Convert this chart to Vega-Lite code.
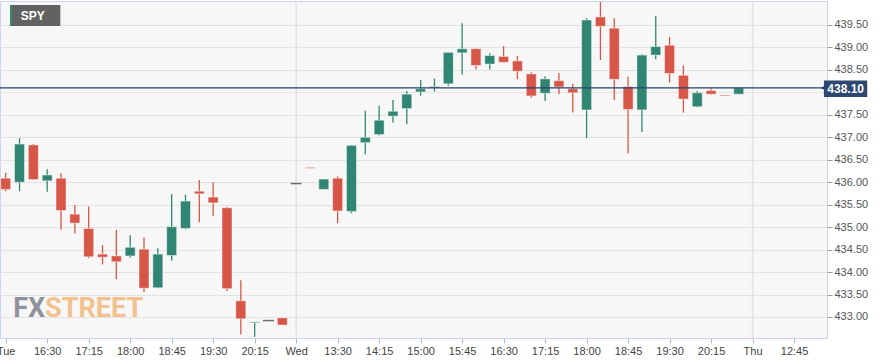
{
  "$schema": "https://vega.github.io/schema/vega-lite/v6.json",
  "width": 827,
  "height": 337,
  "autosize": "none",
  "padding": {"left": 0, "top": 1, "right": 64, "bottom": 26},
  "background": "#ffffff",
  "config": {
    "font": "Liberation Sans",
    "view": {"fill": "#f7f7f7", "stroke": "#ccd6eb", "strokeWidth": 1}
  },
  "resolve": {"axis": {"x": "independent", "y": "independent"}},
  "datasets": {
    "candles": [
      {"i":0,"o":436.09,"h":436.21,"l":435.80,"c":435.84},
      {"i":1,"o":436.00,"h":436.98,"l":435.80,"c":436.85},
      {"i":2,"o":436.83,"h":436.85,"l":436.05,"c":436.06},
      {"i":3,"o":436.03,"h":436.29,"l":435.79,"c":436.16},
      {"i":4,"o":436.09,"h":436.20,"l":434.94,"c":435.37},
      {"i":5,"o":435.29,"h":435.49,"l":434.86,"c":435.09},
      {"i":6,"o":434.97,"h":435.46,"l":434.31,"c":434.34},
      {"i":7,"o":434.40,"h":434.60,"l":434.17,"c":434.33},
      {"i":8,"o":434.36,"h":434.94,"l":433.84,"c":434.23},
      {"i":9,"o":434.36,"h":434.82,"l":434.32,"c":434.55},
      {"i":10,"o":434.51,"h":434.77,"l":433.55,"c":433.64},
      {"i":11,"o":433.65,"h":434.53,"l":433.64,"c":434.40},
      {"i":12,"o":434.37,"h":435.74,"l":434.25,"c":435.01},
      {"i":13,"o":434.97,"h":435.72,"l":434.95,"c":435.58},
      {"i":14,"o":435.80,"h":436.05,"l":435.11,"c":435.74},
      {"i":15,"o":435.67,"h":436.00,"l":435.25,"c":435.54},
      {"i":16,"o":435.43,"h":435.45,"l":433.58,"c":433.63},
      {"i":17,"o":433.36,"h":433.82,"l":432.61,"c":432.96},
      {"i":18,"o":432.87,"h":432.89,"l":432.56,"c":432.89},
      {"i":19,"o":432.92,"h":432.92,"l":432.92,"c":432.92},
      {"i":20,"o":432.98,"h":432.98,"l":432.82,"c":432.82},
      {"i":21,"o":435.97,"h":435.97,"l":435.97,"c":435.97},
      {"i":22,"o":436.33,"h":436.33,"l":436.31,"c":436.31},
      {"i":23,"o":435.84,"h":436.07,"l":435.84,"c":436.07},
      {"i":24,"o":436.09,"h":436.13,"l":435.09,"c":435.36},
      {"i":25,"o":435.35,"h":436.83,"l":435.31,"c":436.82},
      {"i":26,"o":436.88,"h":437.59,"l":436.62,"c":437.00},
      {"i":27,"o":437.06,"h":437.70,"l":437.04,"c":437.38},
      {"i":28,"o":437.47,"h":437.83,"l":437.33,"c":437.58},
      {"i":29,"o":437.64,"h":438.03,"l":437.29,"c":437.96},
      {"i":30,"o":438.01,"h":438.28,"l":437.93,"c":438.08},
      {"i":31,"o":438.10,"h":438.31,"l":438.02,"c":438.13},
      {"i":32,"o":438.19,"h":438.90,"l":438.15,"c":438.89},
      {"i":33,"o":438.88,"h":439.54,"l":438.40,"c":438.97},
      {"i":34,"o":438.97,"h":438.98,"l":438.51,"c":438.60},
      {"i":35,"o":438.63,"h":438.87,"l":438.51,"c":438.82},
      {"i":36,"o":438.80,"h":439.03,"l":438.66,"c":438.67},
      {"i":37,"o":438.70,"h":438.81,"l":438.29,"c":438.47},
      {"i":38,"o":438.41,"h":438.45,"l":437.88,"c":437.92},
      {"i":39,"o":437.98,"h":438.36,"l":437.81,"c":438.30},
      {"i":40,"o":438.26,"h":438.43,"l":437.96,"c":438.12},
      {"i":41,"o":438.08,"h":438.19,"l":437.55,"c":437.99},
      {"i":42,"o":437.61,"h":439.65,"l":436.98,"c":439.61},
      {"i":43,"o":439.68,"h":440.01,"l":438.72,"c":439.47},
      {"i":44,"o":439.43,"h":439.65,"l":437.83,"c":438.29},
      {"i":45,"o":438.13,"h":438.35,"l":436.64,"c":437.62},
      {"i":46,"o":437.61,"h":438.85,"l":437.12,"c":438.83},
      {"i":47,"o":438.83,"h":439.70,"l":438.74,"c":439.02},
      {"i":48,"o":439.05,"h":439.23,"l":438.22,"c":438.42},
      {"i":49,"o":438.38,"h":438.60,"l":437.55,"c":437.85},
      {"i":50,"o":437.68,"h":438.03,"l":437.67,"c":437.99},
      {"i":51,"o":438.04,"h":438.08,"l":437.95,"c":437.96},
      {"i":52,"o":437.94,"h":437.94,"l":437.92,"c":437.92},
      {"i":53,"o":437.96,"h":438.10,"l":437.96,"c":438.10}
    ]
  },
  "layer": [
    {
      "data": {"name": "candles"},
      "mark": {"type": "bar", "width": 10, "clip": true, "opacity": 0},
      "encoding": {
        "x": {
          "field": "i", "type": "quantitative",
          "scale": {"domain": [-0.05, 59.02], "nice": false, "zero": false},
          "axis": {
            "orient": "bottom",
            "values": [0,3,6,9,12,15,18,21,24,27,30,33,36,39,42,45,48,51,54,57],
            "labelExpr": "['Tue','16:30','17:15','18:00','18:45','19:30','20:15','Wed','13:30','14:15','15:00','15:45','16:30','17:15','18:00','18:45','19:30','20:15','Thu','12:45'][round(datum.value/3)]",
            "grid": false, "title": null,
            "domain": true, "domainColor": "#ccd6eb",
            "tickColor": "#b0b8c8", "tickSize": 5,
            "labelPadding": 2, "labelFontSize": 11, "labelColor": "#444444",
            "labelFlush": 3, "labelOverlap": false, "labelBound": false
          }
        },
        "y": {
          "field": "o", "type": "quantitative",
          "scale": {"domain": [432.532, 440.034], "nice": false, "zero": false},
          "axis": {
            "orient": "right",
            "values": [433, 433.5, 434, 434.5, 435, 435.5, 436, 436.5, 437, 437.5, 438.5, 439, 439.5],
            "format": ".2f",
            "grid": true, "gridColor": "#e3e3e3", "gridWidth": 1,
            "domain": false, "title": null,
            "tickColor": "#999999", "tickSize": 5,
            "labelPadding": 2, "labelFontSize": 11, "labelColor": "#555555",
            "labelOverlap": false, "labelBound": false
          }
        },
        "y2": {"field": "c"}
      }
    },
    {
      "data": {"values": [{"level": 438.0}]},
      "mark": {"type": "rule", "color": "#e3e3e3", "strokeWidth": 1},
      "encoding": {
        "y": {"field": "level", "type": "quantitative", "axis": null}
      }
    },
    {
      "data": {"values": [{"day": "Wed", "i": 21}, {"day": "Thu", "i": 54}]},
      "mark": {"type": "rule", "color": "#e2e2e2", "strokeWidth": 1.5},
      "encoding": {
        "x": {"field": "i", "type": "quantitative", "axis": null}
      }
    },
    {
      "data": {"values": [{"t": "FX"}]},
      "mark": {"type": "text", "font": "Roboto", "fontWeight": "bold", "fontSize": 27, "align": "right", "baseline": "alphabetic", "color": "#8e939c"},
      "encoding": {
        "x": {"datum": 2.85, "type": "quantitative", "axis": null},
        "y": {"datum": 433.0, "type": "quantitative", "axis": null},
        "text": {"field": "t"}
      }
    },
    {
      "data": {"values": [{"t": "STREET"}]},
      "mark": {"type": "text", "font": "Roboto", "fontWeight": "bold", "fontSize": 27, "align": "left", "baseline": "alphabetic", "color": "#f2c18d"},
      "encoding": {
        "x": {"datum": 2.85, "type": "quantitative", "axis": null},
        "y": {"datum": 433.0, "type": "quantitative", "axis": null},
        "text": {"field": "t"}
      }
    },
    {
      "data": {"name": "candles"},
      "mark": {"type": "rule", "strokeWidth": 1.3, "clip": true},
      "encoding": {
        "x": {"field": "i", "type": "quantitative", "axis": null},
        "y": {"field": "l", "type": "quantitative", "axis": null},
        "y2": {"field": "h"},
        "color": {
          "condition": [
            {"test": "datum.c > datum.o", "value": "#318673"},
            {"test": "datum.c < datum.o", "value": "#d65748"}
          ],
          "value": "#333333"
        }
      }
    },
    {
      "data": {"name": "candles"},
      "mark": {"type": "bar", "width": 10, "stroke": "#ffffff", "strokeOpacity": 0.45, "strokeWidth": 1, "clip": true},
      "encoding": {
        "x": {"field": "i", "type": "quantitative", "axis": null},
        "y": {"field": "o", "type": "quantitative", "axis": null},
        "y2": {"field": "c"},
        "color": {
          "condition": [
            {"test": "datum.c > datum.o", "value": "#318673"},
            {"test": "datum.c < datum.o", "value": "#d65748"}
          ],
          "value": "#333333"
        }
      }
    },
    {
      "data": {"name": "candles"},
      "transform": [{"filter": "datum.o == datum.c"}],
      "mark": {"type": "tick", "orient": "horizontal", "size": 11, "thickness": 1.5, "color": "#333333"},
      "encoding": {
        "x": {"field": "i", "type": "quantitative", "axis": null},
        "y": {"field": "o", "type": "quantitative", "axis": null}
      }
    },
    {
      "data": {"values": [{"price": 438.10}]},
      "mark": {"type": "rule", "color": "#26416b", "strokeWidth": 1.2},
      "encoding": {
        "y": {"field": "price", "type": "quantitative", "axis": null}
      }
    },
    {
      "data": {"values": [{"t": "SPY"}]},
      "mark": {"type": "rect", "color": "#626262"},
      "encoding": {
        "x": {"datum": 0.31, "type": "quantitative", "axis": null},
        "x2": {"datum": 3.95},
        "y": {"datum": 439.945, "type": "quantitative", "axis": null},
        "y2": {"datum": 439.478}
      }
    },
    {
      "data": {"values": [{"t": "SPY"}]},
      "mark": {"type": "rect", "color": "#2f8a72"},
      "encoding": {
        "x": {"datum": 0.31, "type": "quantitative", "axis": null},
        "x2": {"datum": 0.45},
        "y": {"datum": 439.945, "type": "quantitative", "axis": null},
        "y2": {"datum": 439.478}
      }
    },
    {
      "data": {"values": [{"t": "SPY"}]},
      "mark": {"type": "text", "color": "#ffffff", "fontWeight": "bold", "fontSize": 12, "align": "left", "baseline": "middle"},
      "encoding": {
        "x": {"datum": 1.09, "type": "quantitative", "axis": null},
        "y": {"datum": 439.705, "type": "quantitative", "axis": null},
        "text": {"field": "t"}
      }
    },
    {
      "data": {"values": [{"price": 438.10}]},
      "mark": {"type": "point", "shape": "triangle-left", "filled": true, "size": 30, "color": "#26416b", "opacity": 1},
      "encoding": {
        "x": {"datum": 59.1, "type": "quantitative", "axis": null},
        "y": {"field": "price", "type": "quantitative", "axis": null}
      }
    },
    {
      "data": {"values": [{"price": 438.10}]},
      "mark": {"type": "rect", "color": "#2c4870"},
      "encoding": {
        "x": {"datum": 59.16, "type": "quantitative", "axis": null},
        "x2": {"datum": 62.29},
        "y": {"datum": 438.264, "type": "quantitative", "axis": null},
        "y2": {"datum": 437.897}
      }
    },
    {
      "data": {"values": [{"price": 438.10}]},
      "mark": {"type": "text", "color": "#ffffff", "fontWeight": "bold", "fontSize": 12, "align": "center", "baseline": "middle"},
      "encoding": {
        "x": {"datum": 60.73, "type": "quantitative", "axis": null},
        "y": {"datum": 438.08, "type": "quantitative", "axis": null},
        "text": {"field": "price", "format": ".2f"}
      }
    }
  ]
}
